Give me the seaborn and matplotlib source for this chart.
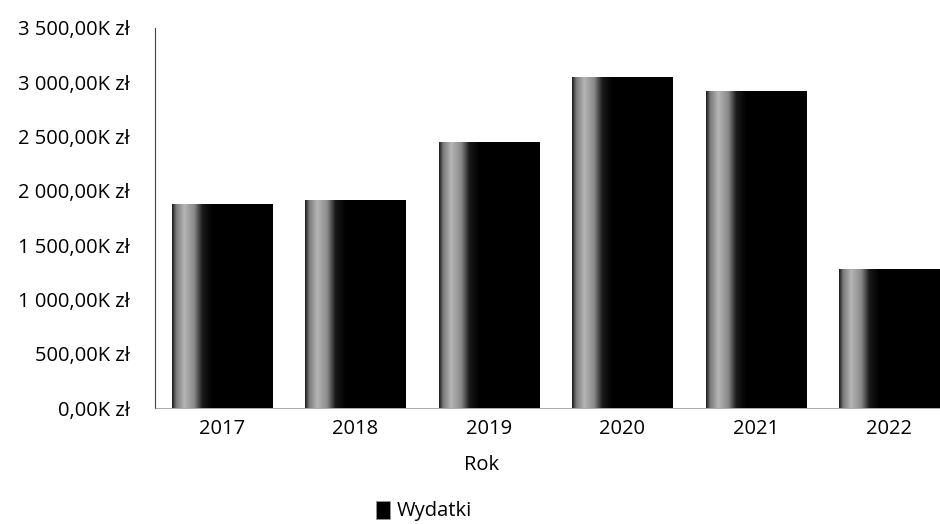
import numpy as np
import pandas as pd
import matplotlib
matplotlib.use('Agg')
import matplotlib.pyplot as plt
import seaborn as sns
from matplotlib.colors import LinearSegmentedColormap
from matplotlib.patches import Patch
from matplotlib.ticker import FuncFormatter

# Dane (wydatki w tys. zł)
lata = ['2017', '2018', '2019', '2020', '2021', '2022']
wydatki = [1870, 1905, 2440, 3040, 2910, 1275]
y_ticks = [0, 500, 1000, 1500, 2000, 2500, 3000, 3500]

sns.set_theme(style='white')
plt.rcParams['font.family'] = ['Open Sans', 'DejaVu Sans']
plt.rcParams['text.color'] = 'black'
plt.rcParams['xtick.color'] = 'black'
plt.rcParams['ytick.color'] = 'black'

df = pd.DataFrame({'Rok': lata, 'Wydatki': wydatki})

fig = plt.figure(figsize=(9.4, 5.24), dpi=100)
ax = fig.add_axes([0.165, 0.221, 0.852, 0.726])

sns.barplot(data=df, x='Rok', y='Wydatki', color='black', width=0.75,
            saturation=1, ax=ax)

# cieniowanie słupków (jasny pas po lewej stronie)
cmap = LinearSegmentedColormap.from_list('bar_shade', [
    (0.0, '#1a1a1a'), (0.04, '#7a7a7a'), (0.12, '#b5b5b5'),
    (0.22, '#8a8a8a'), (0.30, '#1a1a1a'), (0.40, '#000000'), (1.0, '#000000')])
grad = np.linspace(0, 1, 256).reshape(1, -1)
for p in ax.patches:
    x0, w, h = p.get_x(), p.get_width(), p.get_height()
    ax.imshow(grad, extent=[x0, x0 + w, 0, h], aspect='auto', cmap=cmap,
              zorder=3, interpolation='bilinear')

ax.set_xlim(-0.5, 5.5)
ax.set_ylim(0, 3500)
ax.set_yticks(y_ticks)
ax.yaxis.set_major_formatter(FuncFormatter(
    lambda v, _: f"{v:,.2f}".replace(',', ' ').replace('.', ',') + 'K zł'))
ax.tick_params(axis='y', length=0, pad=18, labelsize=14.5)
ax.tick_params(axis='x', length=0, pad=8, labelsize=14.5)
ax.set_xlabel('')
ax.set_ylabel('')

for s in ['top', 'right']:
    ax.spines[s].set_visible(False)
ax.spines['left'].set_color('#444444')
ax.spines['left'].set_linewidth(0.8)
ax.spines['bottom'].set_color('#888888')
ax.spines['bottom'].set_linewidth(0.5)

fig.text(482 / 940, 1 - 465 / 524, 'Rok', ha='center', va='center', fontsize=14.5)

handle = Patch(facecolor='black', edgecolor='#999999', linewidth=0.5)
fig.legend([handle], ['Wydatki'], loc='center', bbox_to_anchor=(424 / 940, 1 - 511 / 524),
           frameon=False, fontsize=14.5, handlelength=0.7, handleheight=1.0,
           handletextpad=0.35)

plt.savefig('out.png', dpi=100)
plt.close()
